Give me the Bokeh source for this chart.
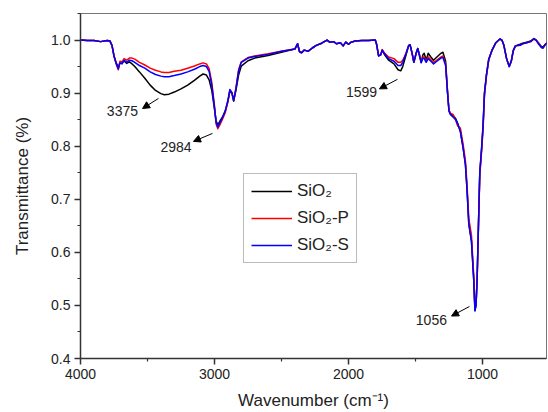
from bokeh.plotting import figure
from bokeh.models import (Range1d, Arrow, NormalHead, Legend, LegendItem, Label,
                          FixedTicker, PrintfTickFormatter)
from bokeh.embed import file_html
from bokeh.resources import INLINE

wavenumber = [4000, 3950, 3900, 3850, 3800, 3780, 3765, 3750, 3735, 3718,
              3705, 3690, 3675, 3655, 3635, 3615, 3595, 3560, 3520, 3480,
              3440, 3400, 3375, 3340, 3300, 3250, 3200, 3150, 3110, 3085,
              3060, 3040, 3020, 3000, 2988, 2975, 2960, 2940, 2920, 2900,
              2885, 2870, 2857, 2840, 2820, 2800, 2750, 2700, 2600, 2500,
              2400, 2380, 2365, 2350, 2330, 2300, 2270, 2240, 2200, 2180,
              2160, 2140, 2110, 2090, 2060, 2040, 2020, 2000, 1980, 1950,
              1900, 1850, 1800, 1790, 1775, 1760, 1748, 1730, 1700, 1660,
              1630, 1610, 1595, 1570, 1550, 1540, 1525, 1512, 1495, 1483,
              1470, 1457, 1445, 1435, 1420, 1405, 1385, 1365, 1340, 1310,
              1295, 1275, 1260, 1250, 1240, 1220, 1200, 1185, 1165, 1145,
              1127, 1115, 1102, 1082, 1065, 1056, 1048, 1040, 1030, 1020,
              1005, 995, 985, 970, 953, 930, 900, 870, 855, 840,
              820, 800, 785, 770, 754, 720, 700, 670, 640, 617,
              600, 580, 560, 548, 530, 515]

t_sio2 = [1.000, 0.999, 0.999, 0.997, 0.999, 0.998, 0.990, 0.970, 0.958, 0.948,
          0.958, 0.956, 0.961, 0.956, 0.959, 0.955, 0.950, 0.940, 0.928, 0.915,
          0.905, 0.899, 0.897, 0.898, 0.902, 0.908, 0.915, 0.924, 0.932, 0.936,
          0.934, 0.925, 0.905, 0.870, 0.848, 0.840, 0.847, 0.855, 0.866, 0.884,
          0.904, 0.900, 0.885, 0.905, 0.934, 0.951, 0.961, 0.966, 0.971, 0.977,
          0.983, 0.993, 0.978, 0.976, 0.981, 0.979, 0.985, 0.990, 0.994, 0.997,
          1.000, 0.996, 0.997, 0.993, 0.995, 0.989, 0.996, 0.992, 0.996, 0.998,
          0.999, 0.999, 1.000, 0.992, 0.970, 0.972, 0.981, 0.972, 0.962, 0.955,
          0.944, 0.942, 0.950, 0.972, 0.990, 0.991, 0.975, 0.958, 0.975, 0.984,
          0.972, 0.958, 0.972, 0.975, 0.962, 0.975, 0.968, 0.962, 0.968, 0.975,
          0.977, 0.960, 0.900, 0.868, 0.862, 0.858, 0.852, 0.843, 0.828, 0.798,
          0.765, 0.718, 0.655, 0.622, 0.549, 0.490, 0.502, 0.549, 0.650, 0.749,
          0.800, 0.840, 0.900, 0.935, 0.964, 0.980, 0.995, 1.002, 1.000, 0.990,
          0.965, 0.950, 0.960, 0.980, 0.989, 0.992, 0.994, 0.996, 0.998, 1.003,
          1.000, 0.994, 0.988, 0.987, 0.992, 0.995]

t_sio2_p = [1.000, 0.999, 0.999, 0.997, 0.999, 0.998, 0.990, 0.970, 0.956, 0.944,
            0.960, 0.959, 0.965, 0.962, 0.966, 0.966, 0.964, 0.958, 0.953, 0.947,
            0.943, 0.940, 0.939, 0.939, 0.941, 0.943, 0.947, 0.951, 0.955, 0.957,
            0.955, 0.946, 0.920, 0.876, 0.842, 0.833, 0.840, 0.851, 0.863, 0.884,
            0.905, 0.901, 0.886, 0.910, 0.944, 0.959, 0.967, 0.970, 0.974, 0.979,
            0.983, 0.993, 0.978, 0.976, 0.981, 0.979, 0.985, 0.990, 0.994, 0.997,
            1.000, 0.996, 0.997, 0.993, 0.995, 0.989, 0.996, 0.992, 0.996, 0.998,
            0.999, 0.999, 1.000, 0.992, 0.970, 0.972, 0.982, 0.975, 0.968, 0.965,
            0.958, 0.958, 0.962, 0.975, 0.990, 0.991, 0.975, 0.958, 0.975, 0.984,
            0.972, 0.958, 0.968, 0.968, 0.960, 0.968, 0.963, 0.958, 0.962, 0.968,
            0.970, 0.955, 0.900, 0.868, 0.862, 0.860, 0.850, 0.838, 0.834, 0.805,
            0.772, 0.726, 0.664, 0.632, 0.556, 0.492, 0.500, 0.547, 0.645, 0.745,
            0.795, 0.835, 0.895, 0.932, 0.962, 0.980, 0.995, 1.002, 1.000, 0.990,
            0.965, 0.950, 0.960, 0.980, 0.989, 0.990, 0.993, 0.995, 0.997, 1.002,
            1.000, 0.994, 0.986, 0.985, 0.992, 0.995]

t_sio2_s = [1.000, 0.999, 0.999, 0.997, 0.999, 0.998, 0.990, 0.970, 0.957, 0.946,
            0.957, 0.955, 0.962, 0.958, 0.962, 0.961, 0.958, 0.952, 0.947, 0.940,
            0.935, 0.932, 0.931, 0.931, 0.933, 0.936, 0.940, 0.945, 0.950, 0.952,
            0.950, 0.941, 0.914, 0.873, 0.845, 0.836, 0.844, 0.854, 0.866, 0.886,
            0.907, 0.901, 0.886, 0.908, 0.942, 0.958, 0.966, 0.969, 0.973, 0.979,
            0.983, 0.993, 0.978, 0.976, 0.981, 0.979, 0.985, 0.990, 0.994, 0.997,
            1.000, 0.996, 0.997, 0.993, 0.995, 0.989, 0.996, 0.992, 0.996, 0.998,
            0.999, 0.999, 1.000, 0.992, 0.970, 0.972, 0.981, 0.974, 0.965, 0.960,
            0.952, 0.952, 0.958, 0.975, 0.990, 0.991, 0.975, 0.958, 0.975, 0.984,
            0.970, 0.957, 0.966, 0.965, 0.958, 0.965, 0.960, 0.955, 0.960, 0.966,
            0.967, 0.952, 0.898, 0.866, 0.860, 0.855, 0.850, 0.842, 0.828, 0.798,
            0.765, 0.718, 0.653, 0.620, 0.547, 0.490, 0.500, 0.548, 0.650, 0.750,
            0.802, 0.842, 0.900, 0.935, 0.964, 0.980, 0.995, 1.002, 1.000, 0.990,
            0.965, 0.950, 0.960, 0.980, 0.989, 0.990, 0.993, 0.995, 0.997, 1.002,
            1.000, 0.992, 0.986, 0.985, 0.992, 0.995]

series_names = ["SiO\u2082", "SiO\u2082-P", "SiO\u2082-S"]
series_colors = ["#000000", "#ff0000", "#0000ff"]

x_ticks = [1000, 2000, 3000, 4000]
x_minor = [1500, 2500, 3500]
y_ticks = [0.4, 0.5, 0.6, 0.7, 0.8, 0.9, 1.0]
y_minor = [0.45, 0.55, 0.65, 0.75, 0.85, 0.95, 1.05]

peak_labels = ["3375", "2984", "1599", "1056"]
label_x = [3687, 3287, 1903, 1381]
label_y = [0.866, 0.798, 0.902, 0.472]
arrow_x0 = [3418, 3015, 1634, 1097]
arrow_y0 = [0.890, 0.824, 0.926, 0.498]
arrow_x1 = [3537, 3157, 1769, 1231]
arrow_y1 = [0.871, 0.809, 0.908, 0.480]

FONT = "Liberation Sans"

p = figure(width=548, height=412, output_backend="svg", toolbar_location=None,
           x_range=Range1d(4000, 522), y_range=Range1d(0.4, 1.05),
           min_border_left=80, min_border_right=2, min_border_top=13,
           min_border_bottom=54)
p.background_fill_color = "white"
p.border_fill_color = "white"
p.outline_line_color = "#777777"
p.outline_line_width = 1
p.xgrid.visible = False
p.ygrid.visible = False

renderers = []
for ys, c in zip([t_sio2, t_sio2_p, t_sio2_s], series_colors):
    r = p.line(wavenumber, ys, line_color=c, line_width=1.5, line_join="round")
    renderers.append(r)

for ax in (p.xaxis[0], p.yaxis[0]):
    ax.axis_line_color = "#333333"
    ax.axis_line_width = 1.5
    ax.major_tick_line_color = "#333333"
    ax.minor_tick_line_color = "#333333"
    ax.major_tick_line_width = 1.5
    ax.minor_tick_line_width = 1.2
    ax.major_tick_out = 6
    ax.major_tick_in = 0
    ax.minor_tick_out = 3
    ax.minor_tick_in = 0
    ax.major_label_text_font = FONT
    ax.major_label_text_font_size = "14px"
    ax.major_label_text_color = "#222222"
    ax.axis_label_text_font = FONT
    ax.axis_label_text_font_size = "17px"
    ax.axis_label_text_font_style = "normal"
    ax.axis_label_text_color = "#222222"

p.xaxis.ticker = FixedTicker(ticks=x_ticks, minor_ticks=x_minor)
p.yaxis.ticker = FixedTicker(ticks=y_ticks, minor_ticks=y_minor)
p.yaxis.formatter = PrintfTickFormatter(format="%.1f")
p.xaxis.axis_label = "Wavenumber (cm\u207b\u00b9)"
p.yaxis.axis_label = "Transmittance (%)"
p.xaxis.major_label_standoff = 4
p.xaxis.axis_label_standoff = 9
p.yaxis.major_label_standoff = 4
p.yaxis.axis_label_standoff = 16

for t, lx, ly, x0, y0, x1, y1 in zip(peak_labels, label_x, label_y,
                                      arrow_x0, arrow_y0, arrow_x1, arrow_y1):
    p.add_layout(Label(x=lx, y=ly, text=t, text_align="center",
                       text_baseline="middle", text_font=FONT,
                       text_font_size="14px", text_color="#222222"))
    p.add_layout(Arrow(end=NormalHead(size=7, fill_color="black",
                                      line_color="black", line_width=1),
                       x_start=x0, y_start=y0, x_end=x1, y_end=y1,
                       line_color="black", line_width=1))

legend = Legend(items=[LegendItem(label=n, renderers=[r])
                       for n, r in zip(series_names, renderers)],
                location=(163, 95))
legend.border_line_color = "#777777"
legend.border_line_width = 1
legend.background_fill_color = "white"
legend.background_fill_alpha = 1
legend.label_text_font = FONT
legend.label_text_font_size = "17px"
legend.label_text_color = "#222222"
legend.glyph_width = 41
legend.glyph_height = 20
legend.label_height = 20
legend.spacing = 7
legend.padding = 7
legend.margin = 0
legend.label_standoff = 5
p.add_layout(legend, "center")

open("out.html", "w").write(file_html(p, INLINE))
